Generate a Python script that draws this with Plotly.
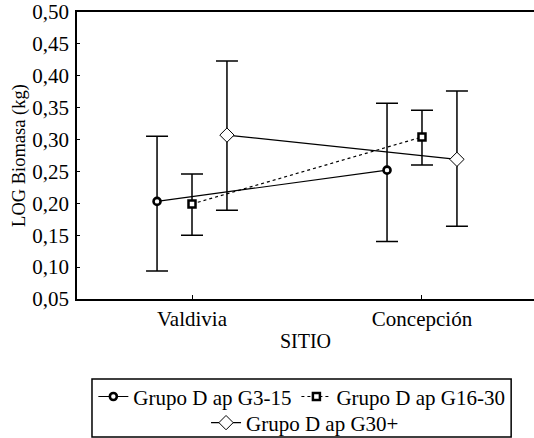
import plotly.graph_objects as go

sitios = ["Valdivia", "Concepción"]
grupos = ["Grupo D ap G3-15", "Grupo D ap G16-30", "Grupo D ap G30+"]

g3_mean = [0.203, 0.252]
g3_upper = [0.305, 0.357]
g3_lower = [0.094, 0.140]

g16_mean = [0.199, 0.304]
g16_upper = [0.246, 0.346]
g16_lower = [0.150, 0.260]

g30_mean = [0.307, 0.269]
g30_upper = [0.423, 0.376]
g30_lower = [0.189, 0.164]

yticks = [0.05, 0.10, 0.15, 0.20, 0.25, 0.30, 0.35, 0.40, 0.45, 0.50]
ytick_text = [f"{v:.2f}".replace(".", ",") for v in yticks]

FONT = "Liberation Serif"
offset = 0.152
series = [
    (grupos[0], g3_mean, g3_upper, g3_lower, -offset, "solid",
     dict(symbol="circle", size=7, color="white", line=dict(color="black", width=2.6)), "legend"),
    (grupos[1], g16_mean, g16_upper, g16_lower, 0.0, "dot",
     dict(symbol="square", size=7, color="white", line=dict(color="black", width=2.5)), "legend"),
    (grupos[2], g30_mean, g30_upper, g30_lower, offset, "solid",
     dict(symbol="diamond", size=11, color="white", line=dict(color="black", width=1)), "legend2"),
]

fig = go.Figure()
for name, m, up, lo, off, dash, marker, leg in series:
    xs = [i + off for i in range(len(sitios))]
    fig.add_trace(go.Scatter(
        x=xs, y=m, name=name, mode="lines+markers",
        line=dict(color="black", width=1.2, dash=dash),
        marker=marker,
        error_y=dict(type="data", symmetric=False,
                     array=[u - v for u, v in zip(up, m)],
                     arrayminus=[v - l for v, l in zip(m, lo)],
                     color="black", thickness=1.5, width=11),
        legend=leg,
    ))

fig.update_layout(
    width=534, height=438,
    margin=dict(l=77, r=0, t=12, b=139, autoexpand=False),
    paper_bgcolor="white", plot_bgcolor="white",
    font=dict(family=FONT, size=20, color="black"),
    showlegend=True,
    xaxis=dict(range=[-0.5, 1.487], tickvals=[0, 1], ticktext=sitios,
               showline=True, linecolor="black", linewidth=1.5, mirror=True,
               ticks="inside", ticklen=4, tickcolor="black",
               showgrid=False, zeroline=False,
               tickfont=dict(family=FONT, size=21),
               title=dict(text="SITIO", font=dict(family=FONT, size=20), standoff=4)),
    yaxis=dict(range=[0.05, 0.50], tickvals=yticks, ticktext=ytick_text,
               showline=True, linecolor="black", linewidth=1.5, mirror=False,
               ticks="inside", ticklen=3, tickcolor="black",
               showgrid=False, zeroline=False, ticklabelstandoff=2,
               tickfont=dict(family=FONT, size=21),
               title=dict(text="LOG Biomasa (kg)", font=dict(family=FONT, size=18.5), standoff=2)),
    legend=dict(orientation="h", x=0.492, xanchor="center", y=-0.341, yanchor="middle",
                font=dict(family=FONT, size=21), bgcolor="rgba(0,0,0,0)", itemwidth=30),
    legend2=dict(orientation="h", x=0.499, xanchor="center", y=-0.432, yanchor="middle",
                 font=dict(family=FONT, size=21), bgcolor="rgba(0,0,0,0)", itemwidth=30),
    shapes=[dict(type="rect", xref="paper", yref="paper",
                 x0=0.0328, x1=0.95, y0=-0.481, y1=-0.279,
                 line=dict(color="black", width=1.5), fillcolor="rgba(0,0,0,0)")],
)

fig.write_html("out.html", config={"displayModeBar": False},
               post_script="document.body.style.margin='0';document.body.style.overflow='hidden';")
